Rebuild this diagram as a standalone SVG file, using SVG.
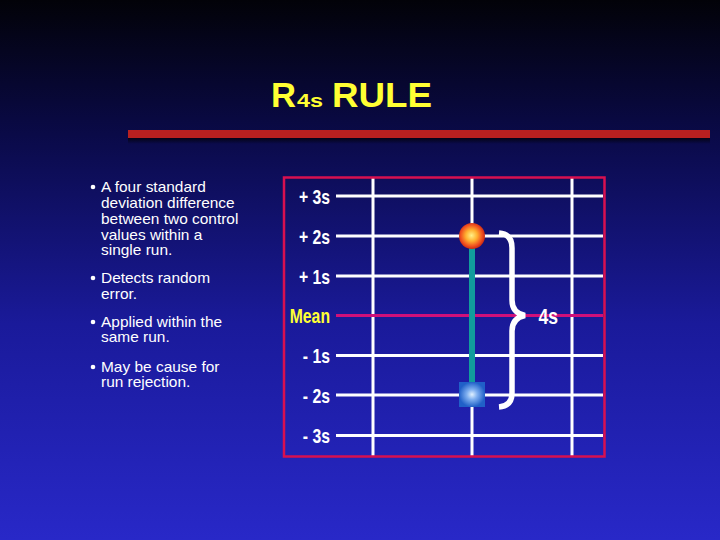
<svg xmlns="http://www.w3.org/2000/svg" width="720" height="540" viewBox="0 0 720 540">
<defs>
<linearGradient id="bg" x1="0" y1="0" x2="0" y2="1">
<stop offset="0" stop-color="#020208"/>
<stop offset="0.25" stop-color="#0a0a48"/>
<stop offset="0.6" stop-color="#1a1a9a"/>
<stop offset="1" stop-color="#2828c8"/>
</linearGradient>
<radialGradient id="orb" cx="0.48" cy="0.48" r="0.55">
<stop offset="0" stop-color="#fff088"/>
<stop offset="0.4" stop-color="#ffb030"/>
<stop offset="0.75" stop-color="#f05020"/>
<stop offset="1" stop-color="#c02010"/>
</radialGradient>
<radialGradient id="sq" cx="0.5" cy="0.5" r="0.5">
<stop offset="0" stop-color="#e0f0ff"/>
<stop offset="0.4" stop-color="#80b0f0"/>
<stop offset="1" stop-color="#2060c8"/>
</radialGradient>
<linearGradient id="shadow" x1="0" y1="0" x2="0" y2="1">
<stop offset="0" stop-color="#000" stop-opacity="0.7"/>
<stop offset="1" stop-color="#000" stop-opacity="0"/>
</linearGradient>
</defs>
<style>
.grid{stroke:#ffffff;stroke-width:3}
.lbl{font-family:"Liberation Sans",Arial,sans-serif;font-weight:bold;font-size:21px;fill:#ffffff;text-anchor:end}
.txt{font-family:"Liberation Sans",Arial,sans-serif;font-size:13.8px;fill:#ffffff}
.bul{fill:#ffffff}
.title{font-family:"Liberation Sans",Arial,sans-serif;font-weight:bold;fill:#ffff33}
</style>
<rect width="720" height="540" fill="url(#bg)"/>
<g id="title">
<text class="title" x="271" y="107" font-size="35" textLength="25" lengthAdjust="spacingAndGlyphs">R</text>
<text class="title" x="297" y="107" font-size="19" textLength="26" lengthAdjust="spacingAndGlyphs">4s</text>
<text class="title" x="332" y="107" font-size="35" textLength="100" lengthAdjust="spacingAndGlyphs">RULE</text>
</g>
<g id="bar">
<rect x="128" y="138" width="582" height="6" fill="url(#shadow)"/>
<rect x="128" y="130" width="582" height="8" fill="#b82020"/>
</g>
<g id="bullets">
<circle class="bul" cx="93" cy="187" r="2.3"/>
<circle class="bul" cx="93" cy="278" r="2.3"/>
<circle class="bul" cx="93" cy="322" r="2.3"/>
<circle class="bul" cx="93" cy="367" r="2.3"/>
<g transform="translate(101,0) scale(1.12,1)">
<text class="txt" x="0" y="192">A four standard</text>
<text class="txt" x="0" y="208">deviation difference</text>
<text class="txt" x="0" y="224">between two control</text>
<text class="txt" x="0" y="240">values within a</text>
<text class="txt" x="0" y="255">single run.</text>
<text class="txt" x="0" y="283">Detects random</text>
<text class="txt" x="0" y="299">error.</text>
<text class="txt" x="0" y="327">Applied within the</text>
<text class="txt" x="0" y="342">same run.</text>
<text class="txt" x="0" y="372">May be cause for</text>
<text class="txt" x="0" y="387">run rejection.</text>
</g>
</g>
<g id="chart">
<line class="grid" x1="373" y1="178" x2="373" y2="456"/>
<line class="grid" x1="472" y1="178" x2="472" y2="456"/>
<line class="grid" x1="572" y1="178" x2="572" y2="456"/>
<line class="grid" x1="336" y1="196" x2="603" y2="196"/>
<line class="grid" x1="336" y1="236" x2="603" y2="236"/>
<line class="grid" x1="336" y1="276" x2="603" y2="276"/>
<line x1="336" y1="315.5" x2="603" y2="315.5" stroke="#d0107a" stroke-width="3"/>
<line class="grid" x1="336" y1="355.5" x2="603" y2="355.5"/>
<line class="grid" x1="336" y1="395" x2="603" y2="395"/>
<line class="grid" x1="336" y1="435.5" x2="603" y2="435.5"/>
<rect x="284" y="177.5" width="320.5" height="279" fill="none" stroke="#d81050" stroke-width="2.5"/>
<text class="lbl" transform="translate(330,204) scale(0.75,1)">+ 3s</text>
<text class="lbl" transform="translate(330,244) scale(0.75,1)">+ 2s</text>
<text class="lbl" transform="translate(330,284) scale(0.75,1)">+ 1s</text>
<text class="lbl" transform="translate(330,323) scale(0.75,1)" style="fill:#ffff33">Mean</text>
<text class="lbl" transform="translate(330,363) scale(0.75,1)">- 1s</text>
<text class="lbl" transform="translate(330,403) scale(0.75,1)">- 2s</text>
<text class="lbl" transform="translate(330,443) scale(0.75,1)">- 3s</text>
</g>
<g id="connectors">
<line x1="472" y1="240" x2="472" y2="392" stroke="#119c9c" stroke-width="6"/>
<path d="M499,233 Q512,234 512,248 L512,300 Q512,313 525,315.5 Q512,318 512,331 L512,393 Q512,406 499,407" fill="none" stroke="#ffffff" stroke-width="5.5"/>
</g>
<g id="high-point">
<circle cx="472" cy="236" r="13" fill="url(#orb)"/>
</g>
<g id="low-point">
<rect x="459" y="382" width="26" height="25" fill="url(#sq)"/>
</g>
<g id="brace-label">
<text class="lbl" transform="translate(558,324) scale(0.8,1)" style="font-size:22px">4s</text>
</g>
</svg>
